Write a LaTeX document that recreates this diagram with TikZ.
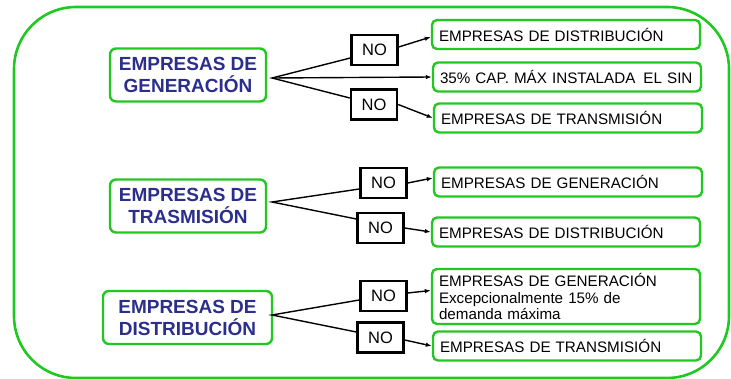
\documentclass[tikz,border=0pt]{standalone}
\usepackage{fontspec}
\setmainfont{Liberation Sans}
\usetikzlibrary{arrows.meta}
\definecolor{frameGreen}{RGB}{34,200,34}
\definecolor{titleBlue}{RGB}{43,46,140}
\begin{document}
\begin{tikzpicture}[x=1pt,y=-1pt,
    company/.style={draw=frameGreen,line width=2.4pt,rounded corners=6pt,align=center,text=titleBlue,
        minimum height=53pt,inner sep=2pt,font=\fontsize{19}{22}\selectfont\bfseries},
    target/.style={draw=frameGreen,line width=2.4pt,rounded corners=5pt,text width=254pt,align=left,
        inner xsep=7pt,inner ysep=3pt,minimum height=29pt,font=\fontsize{15.2}{16.5}\selectfont},
    nobox/.style={draw,line width=2.4pt,minimum width=46pt,minimum height=30pt,inner sep=0pt,
        font=\fontsize{16.5}{16.5}\selectfont},
    link/.style={line width=1.4pt},
    arr/.style={line width=1.4pt,-{Latex[length=6pt,width=4.5pt]}}]
    \useasboundingbox (0,0) rectangle (731,379);
    \draw[frameGreen,line width=2.6pt,rounded corners=62pt] (14,7) rectangle (729,378);
    % companies
    \node[company,minimum width=156pt] (gen) at (188,75) {EMPRESAS DE\\GENERACIÓN};
    \node[company,minimum width=156pt] (tra) at (188,206) {EMPRESAS DE\\TRASMISIÓN};
    \node[company,minimum width=169pt] (dis) at (187.5,317.5) {EMPRESAS DE\\DISTRIBUCIÓN};
    \coordinate (genfan) at (272,78);
    \coordinate (trafan) at (272,202);
    \coordinate (disfan) at (272,315);
    % restrictions
    \node[nobox] (no1) at (374.5,50) {NO};
    \node[nobox] (no2) at (374,104.5) {NO};
    \node[nobox] (no3) at (383.5,183) {NO};
    \node[nobox] (no4) at (380.5,228) {NO};
    \node[nobox] (no5) at (383.5,296) {NO};
    \node[nobox] (no6) at (380.5,337.5) {NO};
    % targets
    \node[target] (gdis) at (566,34.5) {EMPRESAS DE DISTRIBUCIÓN};
    \node[target] (gcap) at (567,77) {\mbox{35\% CAP. MÁX INSTALADA\hspace{3pt} EL SIN}};
    \node[target] (gtra) at (568,118) {EMPRESAS DE TRANSMISIÓN};
    \node[target] (tgen) at (568,182) {EMPRESAS DE GENERACIÓN};
    \node[target] (tdis) at (566,232) {EMPRESAS DE DISTRIBUCIÓN};
    \node[target,minimum height=55pt] (dgen) at (566,296.5) {EMPRESAS DE GENERACIÓN\\Excepcionalmente 15\% de\\demanda máxima};
    \node[target] (dtra) at (567,346) {EMPRESAS DE TRANSMISIÓN};
    % connectors
    \draw[link] ([yshift=-8pt]no1.west) -- (genfan) -- ([yshift=6.5pt]no2.west);
    \draw[arr] (genfan) -- (gcap.west);
    \draw[link] ([yshift=-6pt]no3.west) -- (trafan) -- ([yshift=9pt]no4.west);
    \draw[link] ([yshift=-4pt]no5.west) -- (disfan) -- ([yshift=5.5pt]no6.west);
    \draw[arr] ([yshift=3pt]no1.east) -- ([yshift=-2.5pt]gdis.west);
    \draw[arr] (no2.east) -- (gtra.west);
    \draw[arr] (no3.east) -- ([yshift=4pt]tgen.west);
    \draw[arr] (no4.east) -- (tdis.west);
    \draw[arr] ([yshift=3pt]no5.east) -- ([yshift=6pt]dgen.west);
    \draw[arr] ([yshift=-2.5pt]no6.east) -- (dtra.west);
\end{tikzpicture}
\end{document}
